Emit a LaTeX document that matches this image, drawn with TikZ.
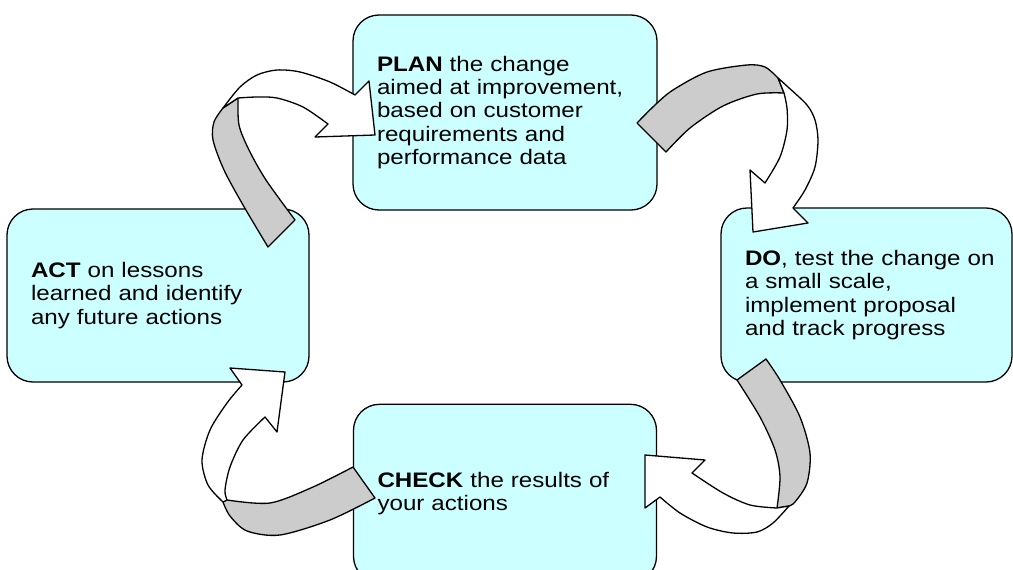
\documentclass[tikz,border=0pt]{standalone}
\usepackage{fontspec}
\newfontfamily\stagefont{Liberation Sans}[FakeStretch=1.15]
\usetikzlibrary{positioning}
\definecolor{stagecyan}{HTML}{CCFFFF}
\definecolor{foldgray}{HTML}{CCCCCC}

\begin{document}
\begin{tikzpicture}[x=1pt,y=-1pt,line width=1.3pt,line join=round,
   stage/.style={draw,fill=stagecyan,rounded corners=26pt,align=left,
     inner xsep=24pt,text width=#1,
     font={\stagefont\fontsize{21}{23.3}\selectfont}},
   back/.style={draw,fill=foldgray},
   front/.style={draw,fill=white}]
  \clip (0,0) rectangle (1013,570);
  \node[stage=256pt,minimum height=195pt] (plan) at (505,112.5)
    {\textbf{PLAN} the change\\ aimed at improvement,\\ based on customer\\
     requirements and\\ performance data};
  \node[stage=243pt,minimum height=174pt] (do) at (866.5,295)
    {\textbf{DO},~test~the~change~on\\ a small scale,\\ implement proposal\\
     and track progress};
  \node[stage=255pt,minimum height=178pt,below=193pt of plan] (check)
    {\textbf{CHECK} the results of\\ your actions};
  \node[stage=254pt,minimum height=173pt] (act) at (158,295.5)
    {\textbf{ACT} on lessons\\ learned and identify\\ any future actions};

  % act -> plan
  \draw[back] plot[smooth] coordinates {(268,247) (243,205) (224,170) (213,140) (214,122) (223,108)}
    -- plot[smooth] coordinates {(238,98) (239,125) (249,150) (266,180) (295,220)} -- cycle;
  \draw[front] plot[smooth] coordinates {(223,108) (240,87) (257,75) (277,70) (300,72) (330,82) (355,95)}
    -- (369,81) -- (375,135) -- (315,137)
    -- plot[smooth] coordinates {(328,124) (303,107) (277,98) (257,97) (238,98)} -- cycle;

  % plan -> do
  \draw[back] plot[smooth] coordinates {(637,123) (655,105) (673,90) (707,72) (747,65) (765,67) (778,78)}
    -- plot[smooth] coordinates {(784,93) (757,94) (723,106) (690,128) (666,152)} -- cycle;
  \draw[front] plot[smooth] coordinates {(778,78) (788,87) (807,105) (815,120) (818,140) (815,167) (805,190) (793,208)}
    -- (808,223) -- (753,232) -- (750,170)
    -- plot[smooth] coordinates {(765,183) (780,157) (787,130) (787,108) (784,93)} -- cycle;

  % do -> check
  \draw[back] plot[smooth] coordinates {(766,359) (780,380) (800,417) (810,453) (807,483) (795,502) (789,506)}
    -- plot[smooth] coordinates {(777,508) (780,477) (775,450) (760,417) (737,380)} -- cycle;
  \draw[front] plot[smooth] coordinates {(789,506) (773,523) (757,532) (733,533) (707,527) (680,513) (660,497)}
    -- (645,508) -- (645,455) -- (705,460)
    -- plot[smooth] coordinates {(692,473) (723,493) (750,505) (777,508)} -- cycle;

  % check -> act
  \draw[back] plot[smooth] coordinates {(375,498) (330,520) (280,535) (247,531) (230,516) (223,502)}
    -- plot[smooth] coordinates {(227,500) (270,503) (313,487) (353,467)} -- cycle;
  \draw[front] plot[smooth] coordinates {(223,502) (208,485) (202,460) (210,430) (227,403) (242,385)}
    -- (230,368) -- (285,372) -- (277,432)
    -- plot[smooth] coordinates {(265,417) (243,440) (230,467) (225,490) (227,500)} -- cycle;
\end{tikzpicture}
\end{document}
